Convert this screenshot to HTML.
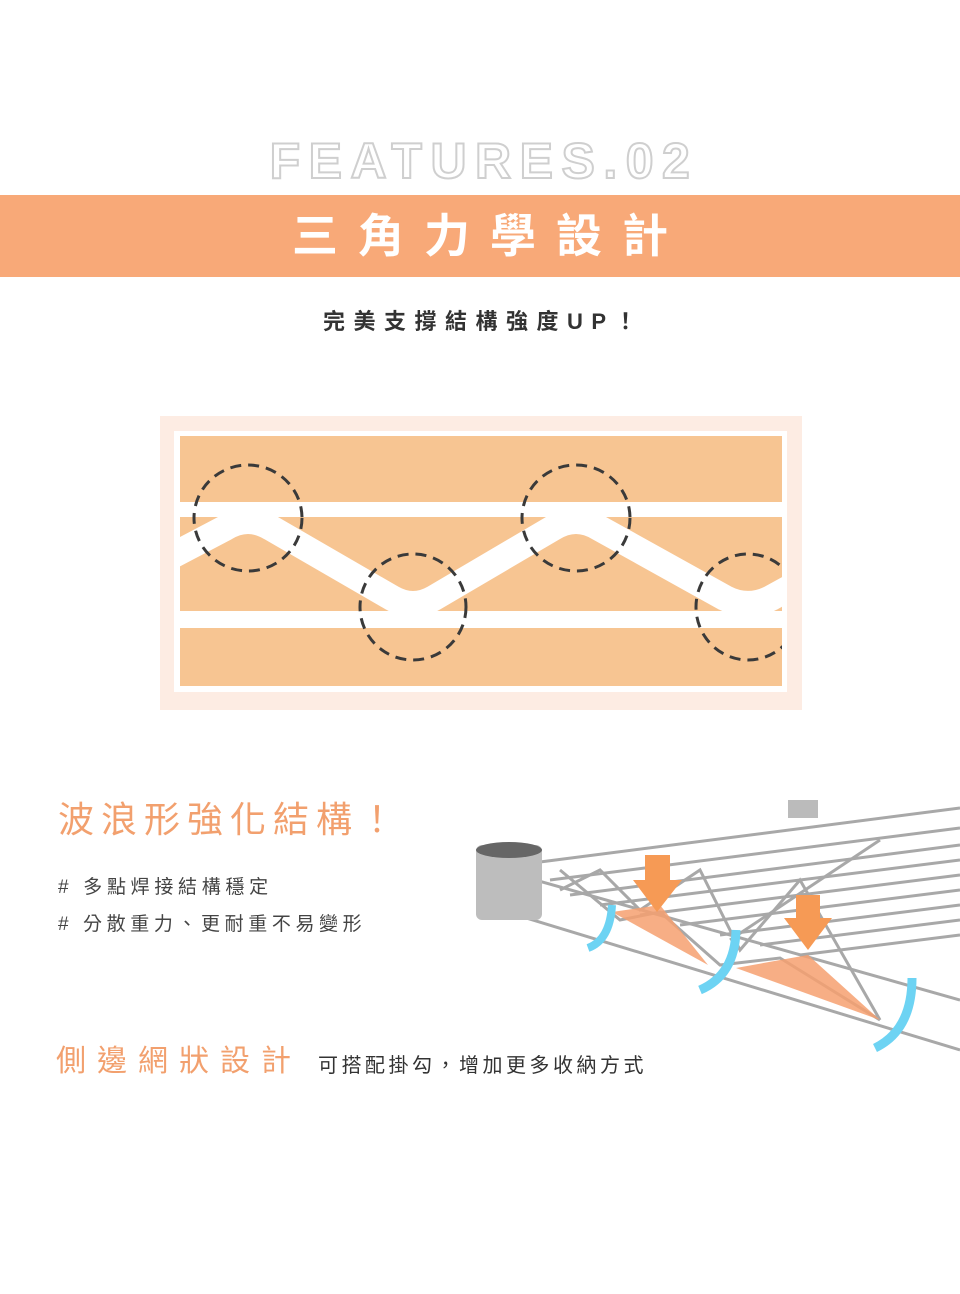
<!DOCTYPE html>
<html><head><meta charset="utf-8"><style>
body{margin:0;width:960px;height:1294px;background:#fff;position:relative;overflow:hidden;font-family:"Liberation Sans","Noto Sans CJK TC",sans-serif}
.a{position:absolute;white-space:nowrap}
</style></head><body>
<div class="a" style="left:0;top:133px;width:960px;text-align:center;font-size:50px;font-weight:bold;letter-spacing:8.5px;color:#fff;-webkit-text-stroke:2px #cfcfcf;line-height:56px;padding-left:8px;box-sizing:border-box">FEATURES.02</div>
<div class="a" style="left:0;top:195px;width:960px;height:82px;background:#f8a978"></div>
<div class="a" style="left:0;top:206px;width:960px;text-align:center;font-size:46px;font-weight:bold;letter-spacing:20px;color:#fff;line-height:60px;padding-left:20px;box-sizing:border-box">三角力學設計</div>
<div class="a" style="left:0;top:307px;width:960px;text-align:center;font-size:22px;font-weight:bold;letter-spacing:8.5px;color:#333;line-height:30px;padding-left:8px;box-sizing:border-box">完美支撐結構強度UP！</div>

<svg class="a" style="left:0;top:0" width="960" height="1294">
<rect x="160" y="416" width="642" height="294" fill="#fdece3"/>
<rect x="174" y="431" width="613" height="261" fill="#fff"/>
<rect x="180" y="436" width="602" height="250" fill="#f7c592"/>
<rect x="180" y="502" width="602" height="15" fill="#fff"/>
<rect x="180" y="611" width="602" height="17" fill="#fff"/>
<clipPath id="c"><rect x="180" y="436" width="602" height="250"/></clipPath>
<g clip-path="url(#c)">
<path d="M170,557 L225,528 Q248,514 271,528 L392,598 Q413,610 434,598 L553,528 Q576,514 599,528 L725,598 Q748,610 771,598 L800,582" fill="none" stroke="#fff" stroke-width="26"/>
<g fill="none" stroke="#3a3a3a" stroke-width="3" stroke-dasharray="11,7">
<ellipse cx="248" cy="518" rx="54" ry="53"/>
<ellipse cx="413" cy="607" rx="53" ry="53"/>
<ellipse cx="576" cy="518" rx="54" ry="53"/>
<ellipse cx="748" cy="607" rx="52" ry="53"/>
</g></g>

<!-- shelf -->
<g stroke="#a8a8a8" stroke-width="3" fill="none">
<line x1="540" y1="862" x2="960" y2="808"/>
<line x1="500" y1="870" x2="960" y2="1000"/>
<line x1="500" y1="910" x2="960" y2="1050"/>
<line x1="550" y1="880" x2="960" y2="828"/>
<line x1="570" y1="895" x2="960" y2="845"/>
<line x1="600" y1="905" x2="960" y2="860"/>
<line x1="640" y1="915" x2="960" y2="875"/>
<line x1="680" y1="925" x2="960" y2="890"/>
<line x1="720" y1="935" x2="960" y2="905"/>
<line x1="760" y1="945" x2="960" y2="920"/>
<line x1="800" y1="955" x2="960" y2="935"/>
<line x1="730" y1="940" x2="880" y2="840"/>
<polyline points="560,890 600,870 640,910 700,870 740,950 800,880 880,1020"/>
<polyline points="560,870 620,920 660,912 720,965 780,958 880,1020"/>
</g>
<rect x="476" y="845" width="66" height="75" rx="6" fill="#bdbdbd"/>
<ellipse cx="509" cy="850" rx="33" ry="8" fill="#666"/>
<rect x="788" y="800" width="30" height="18" fill="#bbb"/>
<polygon points="612,912 660,905 708,965" fill="#f6a070" opacity=".85"/>
<polygon points="736,968 808,955 880,1020" fill="#f6a070" opacity=".85"/>
<polygon points="645,855 670,855 670,880 682,880 657,912 633,880 645,880" fill="#f69a55"/>
<polygon points="796,895 820,895 820,918 832,918 808,950 784,918 796,918" fill="#f69a55"/>
<path d="M588,948 Q610,940 612,905" stroke="#6dd3f3" stroke-width="8" fill="none"/>
<path d="M700,990 Q735,975 736,930" stroke="#6dd3f3" stroke-width="9" fill="none"/>
<path d="M875,1048 Q912,1030 912,978" stroke="#6dd3f3" stroke-width="9" fill="none"/>
</svg>

<div class="a" style="left:58px;top:796px;font-size:36px;letter-spacing:7px;color:#f2a06e;line-height:48px">波浪形強化結構！</div>
<div class="a" style="left:58px;top:875px;font-size:19px;letter-spacing:4.7px;color:#444;line-height:26px"># 多點焊接結構穩定</div>
<div class="a" style="left:58px;top:912px;font-size:19px;letter-spacing:4.6px;color:#444;line-height:26px"># 分散重力、更耐重不易變形</div>
<div class="a" style="left:56px;top:1042px;font-size:30px;letter-spacing:11px;color:#f2a06e;line-height:40px">側邊網狀設計</div>
<div class="a" style="left:318px;top:1052px;font-size:20px;letter-spacing:3.5px;color:#333;line-height:28px">可搭配掛勾，增加更多收納方式</div>
</body></html>
